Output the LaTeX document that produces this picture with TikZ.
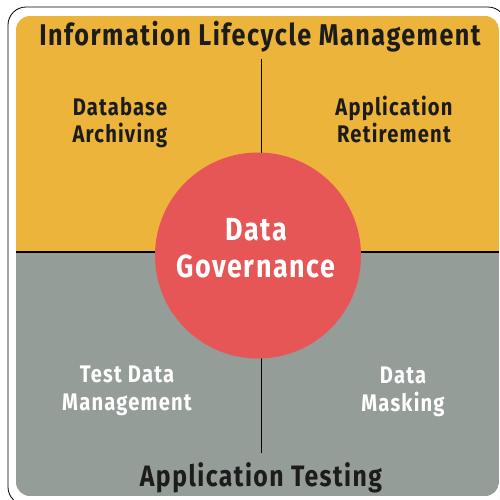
\documentclass[tikz,border=0pt]{standalone}
\usepackage{fontspec}
\newfontfamily\cond[FakeStretch=0.84,LetterSpace=5]{Fira Sans}
\definecolor{ilmyellow}{RGB}{236,180,58}
\definecolor{testgray}{RGB}{148,157,152}
\definecolor{govred}{RGB}{230,86,86}
\definecolor{darktext}{RGB}{28,28,28}
\begin{document}
\begin{tikzpicture}[x=1pt,y=-1pt,
  headline/.style={font=\cond\bfseries\fontsize{30}{32}\selectfont, text=darktext, inner sep=0pt},
  quadlabel/.style={font=\cond\bfseries\fontsize{24}{27.5}\selectfont, align=center, inner sep=0pt},
  govlabel/.style={font=\cond\bfseries\fontsize{32}{37}\selectfont, align=center, text=white, inner sep=0pt},
  divider/.style={draw=black, line width=1.1pt},
]
\useasboundingbox (0,0) rectangle (500,499);
\fill[white] (0,0) rectangle (500,499);
% outer frame
\begin{scope}
\clip (0,0) rectangle (500,499);
\draw[black, line width=0.8pt, rounded corners=18pt] (8,7) rectangle (506,505);
\end{scope}
% coloured panel
\begin{scope}
\clip[rounded corners=14pt] (16,16) rectangle (499,496);
\fill[ilmyellow] (16,16) rectangle (499,252);
\fill[testgray] (16,252) rectangle (499,496);
\end{scope}
% dividers
\coordinate (hl) at (16,252);
\coordinate (hr) at (499,252);
\coordinate (vt) at (261.5,59);
\coordinate (vb) at (261.5,453);
\draw[divider] (hl) -- (hr);
\draw[black, line width=0.9pt] (vt) -- (vb);
% circle
\node[circle, fill=govred, minimum size=206pt, inner sep=0pt] (gov) at (258,255.5) {};
\node[govlabel] (govtext) at (256,248) {Data\\Governance};
% titles
\node[headline] (ilm) at (260,37) {Information Lifecycle Management};
\node[headline, font=\cond\bfseries\fontsize{29.5}{32}\selectfont] (apptest) at (261,478) {Application Testing};
% quadrant labels
\node[quadlabel, text=darktext] (dbarch) at (120,122.5) {Database\\Archiving};
\node[quadlabel, text=darktext] (appret) at (394,119.5) {Application\\Retirement};
\node[quadlabel, text=white] (tdm) at (127,391) {Test Data\\Management};
\node[quadlabel, text=white] (mask) at (403,392) {Data\\Masking};
\end{tikzpicture}
\end{document}
